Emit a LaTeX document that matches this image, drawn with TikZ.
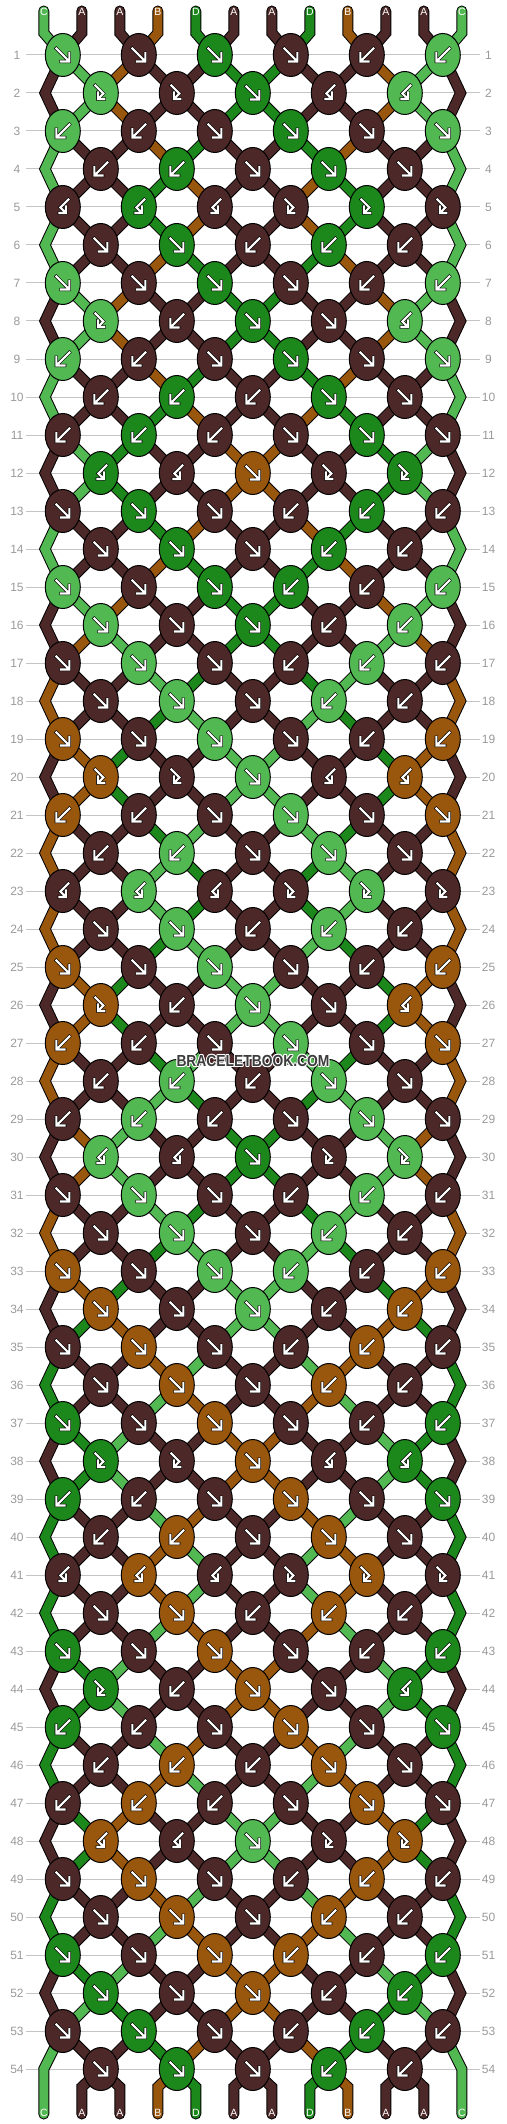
\documentclass[tikz,border=0pt]{standalone}
\usepackage{fontspec}
\setmainfont{Liberation Sans}
\definecolor{cA}{HTML}{4D2828}
\definecolor{cB}{HTML}{99560D}
\definecolor{cC}{HTML}{52B852}
\definecolor{cD}{HTML}{1C881C}
\definecolor{lbl}{HTML}{9A9A9A}
\definecolor{gridc}{HTML}{C4C4C4}
\definecolor{wm}{HTML}{3C3C3C}
\tikzset{
 strO/.style={draw=black, line width=11pt, line join=miter},
 strI/.style={line width=9pt, line join=miter},
 endO/.style={draw=black, line width=11pt, line join=miter, line cap=round},
 endI/.style={line width=9pt, line join=miter, line cap=round},
 arO/.style={draw=black, line width=3.3pt, line join=miter, line cap=rect},
 arI/.style={draw=white, line width=2.1pt, line join=miter, line cap=rect},
 rowlab/.style={text=lbl, font=\fontsize{12}{12}\selectfont, inner sep=0pt},
 strlab/.style={text=white, font=\fontsize{10.5}{10.5}\selectfont, inner sep=0pt},
 knotshape/.style={draw=black, line width=1pt},
}
\newcount\bbk \newcount\bbL \newcount\bbR \newcount\bbr
\gdef\bbknots{}
\newcommand\bbsetst[2]{\expandafter\xdef\csname bbst@#1\endcsname{#2}}
\newcommand\bbgetst[1]{\csname bbst@#1\endcsname}
\newcommand\bbarrF{\draw[arO] (-6.5,-6.5)--(5.8,5.8) (-1.8,6.5)--(6.5,6.5)--(6.5,-1.8);
 \draw[arI] (-6.5,-6.5)--(5.8,5.8) (-1.8,6.5)--(6.5,6.5)--(6.5,-1.8);}
\newcommand\bbarrB{\draw[arO] (6.5,-6.5)--(-5.8,5.8) (1.8,6.5)--(-6.5,6.5)--(-6.5,-1.8);
 \draw[arI] (6.5,-6.5)--(-5.8,5.8) (1.8,6.5)--(-6.5,6.5)--(-6.5,-1.8);}
\newcommand\bbarrf{\draw[arO] (-5.5,-7.5)--(2.5,0.5)--(-2.5,5.5) (-3,-0.5)--(-3,6)--(3.5,6);
 \draw[arI] (-5.5,-7.5)--(2.5,0.5)--(-2.5,5.5) (-3,-0.5)--(-3,6)--(3.5,6);}
\newcommand\bbarrb{\draw[arO] (5.5,-7.5)--(-2.5,0.5)--(2.5,5.5) (3,-0.5)--(3,6)--(-3.5,6);
 \draw[arI] (5.5,-7.5)--(-2.5,0.5)--(2.5,5.5) (3,-0.5)--(3,6)--(-3.5,6);}
\newcommand\bbdrawknot[4]{%
 \begin{scope}[shift={(#1,#2)}]
 \filldraw[knotshape, fill=c#3] (0,0) ellipse [x radius=17.5, y radius=21.5];
 \csname bbarr#4\endcsname
 \end{scope}}
\newcommand\bbknot[1]{%
 \global\advance\bbk by 1\relax
 \ifodd\bbr
  \global\bbL=\numexpr2*\bbk-1\relax
  \pgfmathsetmacro\bbx{-13.2+76*\the\bbk}%
 \else
  \global\bbL=\numexpr2*\bbk\relax
  \pgfmathsetmacro\bbx{24.8+76*\the\bbk}%
 \fi
 \global\bbR=\numexpr\bbL+1\relax
 \pgfmathsetmacro\bby{17+38*\the\bbr}%
 \edef\bbcl{\bbgetst{\the\bbL}}%
 \edef\bbcr{\bbgetst{\the\bbR}}%
 \if F#1\edef\bbkc{\bbcl}\bbsetst{\the\bbL}{\bbcr}\bbsetst{\the\bbR}{\bbcl}\fi
 \if B#1\edef\bbkc{\bbcr}\bbsetst{\the\bbL}{\bbcr}\bbsetst{\the\bbR}{\bbcl}\fi
 \if f#1\edef\bbkc{\bbcl}\fi
 \if b#1\edef\bbkc{\bbcr}\fi
 \xdef\bbknots{\unexpanded\expandafter{\bbknots}\noexpand\bbdrawknot{\bbx}{\bby}{\bbkc}{#1}}%
}
\def\bbloop#1{\ifx#1\relax\else\bbknot{#1}\expandafter\bbloop\fi}
\newcommand\bbsegs{%
 \pgfmathsetmacro\bbya{17+38*\the\bbr}%
 \ifnum\bbr<54
  \ifodd\bbr
   \foreach \p in {2,...,11}{%
    \pgfmathsetmacro\bbxa{-13.2+76*int((\p+1)/2)}%
    \pgfmathsetmacro\bbxb{24.8+76*int(\p/2)}%
    \edef\bbcc{c\bbgetst{\p}}%
    \draw[strO] (\bbxa,\bbya) -- (\bbxb,{\bbya+38});
    \draw[strI,draw=\bbcc] (\bbxa,\bbya) -- (\bbxb,{\bbya+38});
   }%
   \edef\bbcc{c\bbgetst{1}}%
   \edef\bbcd{c\bbgetst{12}}%
   \ifnum\bbr<53
    \draw[strO] (62.8,\bbya) -- (45,{\bbya+38}) -- (62.8,{\bbya+76});
    \draw[strI,draw=\bbcc] (62.8,\bbya) -- (45,{\bbya+38}) -- (62.8,{\bbya+76});
    \draw[strO] (442.8,\bbya) -- (460.6,{\bbya+38}) -- (442.8,{\bbya+76});
    \draw[strI,draw=\bbcd] (442.8,\bbya) -- (460.6,{\bbya+38}) -- (442.8,{\bbya+76});
   \else
    \draw[endO] (62.8,\bbya) -- (43.8,{\bbya+38}) -- (43.8,2114);
    \draw[endI,draw=\bbcc] (62.8,\bbya) -- (43.8,{\bbya+38}) -- (43.8,2114);
    \draw[endO] (442.8,\bbya) -- (461.8,{\bbya+38}) -- (461.8,2114);
    \draw[endI,draw=\bbcd] (442.8,\bbya) -- (461.8,{\bbya+38}) -- (461.8,2114);
   \fi
  \else
   \foreach \p in {2,...,11}{%
    \pgfmathsetmacro\bbxa{24.8+76*int(\p/2)}%
    \pgfmathsetmacro\bbxb{-13.2+76*int((\p+1)/2)}%
    \edef\bbcc{c\bbgetst{\p}}%
    \draw[strO] (\bbxa,\bbya) -- (\bbxb,{\bbya+38});
    \draw[strI,draw=\bbcc] (\bbxa,\bbya) -- (\bbxb,{\bbya+38});
   }%
  \fi
 \else
  \foreach \p in {2,...,11}{%
   \pgfmathsetmacro\bbxa{24.8+76*int(\p/2)}%
   \pgfmathsetmacro\bbxb{5.8+38*\p}%
   \edef\bbcc{c\bbgetst{\p}}%
   \draw[endO] (\bbxa,\bbya) -- (\bbxb,{\bbya+18}) -- (\bbxb,2114);
   \draw[endI,draw=\bbcc] (\bbxa,\bbya) -- (\bbxb,{\bbya+18}) -- (\bbxb,2114);
  }%
 \fi
}
\newcommand\bbrow[2]{%
 \global\bbr=#1\relax
 \global\bbk=0\relax
 \bbloop#2\relax
 \bbsegs
}
\begin{document}
\begin{tikzpicture}[x=1pt,y=-1pt]
\useasboundingbox (0,0) rectangle (506,2124);
\fill[white] (0,0) rectangle (506,2124);
% row guide lines and numbers
\foreach \r in {1,...,54}{%
 \pgfmathsetmacro\bbya{17+38*\r}%
 \draw[gridc, line width=1pt] (26,\bbya) -- (480,\bbya);
 \node[rowlab] (L\r) at (17,\bbya) {\r};
 \node[rowlab] (R\r) at (488.5,\bbya) {\r};
}
% initial strings
\foreach \p/\c in {1/C,2/A,3/A,4/B,5/D,6/A,7/A,8/D,9/B,10/A,11/A,12/C}{%
 \bbsetst{\p}{\c}%
 \pgfmathsetmacro\bbxa{5.8+38*\p}%
 \pgfmathsetmacro\bbxb{-13.2+76*int((\p+1)/2)}%
 \draw[endO] (\bbxa,11) -- (\bbxa,33) -- (\bbxb,55);
 \draw[endI,draw=c\c] (\bbxa,11) -- (\bbxa,33) -- (\bbxb,55);
 \node[strlab] (T\p) at (\bbxa,12.3) {\c};
}
\bbrow{1}{FFFFBB}
\bbrow{2}{ffFbb}
\bbrow{3}{BBFFFF}
\bbrow{4}{BBFFF}
\bbrow{5}{bbbfff}
\bbrow{6}{FFBBB}
\bbrow{7}{FFFFBB}
\bbrow{8}{fBFFb}
\bbrow{9}{BBFFFF}
\bbrow{10}{BBBFF}
\bbrow{11}{BBBFFF}
\bbrow{12}{bbFff}
\bbrow{13}{FFFBBB}
\bbrow{14}{FFFBB}
\bbrow{15}{FFFBBB}
\bbrow{16}{FFFBB}
\bbrow{17}{FFFBBB}
\bbrow{18}{FFFBB}
\bbrow{19}{FFFFBB}
\bbrow{20}{ffFbb}
\bbrow{21}{BBFFFF}
\bbrow{22}{BBFFF}
\bbrow{23}{bbbfff}
\bbrow{24}{FFBBB}
\bbrow{25}{FFFFBB}
\bbrow{26}{fBFFb}
\bbrow{27}{BBFFFF}
\bbrow{28}{BBBFF}
\bbrow{29}{BBBFFF}
\bbrow{30}{bbFff}
\bbrow{31}{FFFBBB}
\bbrow{32}{FFFBB}
\bbrow{33}{FFFBBB}
\bbrow{34}{FFFBB}
\bbrow{35}{FFFBBB}
\bbrow{36}{FFFBB}
\bbrow{37}{FFFFBB}
\bbrow{38}{ffFbb}
\bbrow{39}{BBFFFF}
\bbrow{40}{BBFFF}
\bbrow{41}{bbbfff}
\bbrow{42}{FFBBB}
\bbrow{43}{FFFFBB}
\bbrow{44}{fBFFb}
\bbrow{45}{BBFFFF}
\bbrow{46}{BBBFF}
\bbrow{47}{BBBFFF}
\bbrow{48}{bbFff}
\bbrow{49}{FFFBBB}
\bbrow{50}{FFFBB}
\bbrow{51}{FFFBBB}
\bbrow{52}{FFFBB}
\bbrow{53}{FFFBBB}
\bbrow{54}{FFFBB}
% knots on top of strings
\bbknots
% bottom labels
\foreach \p in {1,...,12}{%
 \pgfmathsetmacro\bbxa{5.8+38*\p}%
 \node[strlab] (E\p) at (\bbxa,2112.7) {\bbgetst{\p}};
}
% watermark
\foreach \dx/\dy in {-0.9/0,0.9/0,0/-0.9,0/0.9,-0.7/-0.7,0.7/0.7,-0.7/0.7,0.7/-0.7}{%
 \node[text=white, inner sep=0pt, font=\bfseries\fontsize{16}{16}\selectfont] at ({253+\dx},{1061+\dy}) {\scalebox{0.865}[1]{BRACELETBOOK.COM}};
}
\node[text=wm, inner sep=0pt, font=\bfseries\fontsize{16}{16}\selectfont] (wmark) at (253,1061) {\scalebox{0.865}[1]{BRACELETBOOK.COM}};
\end{tikzpicture}
\end{document}
